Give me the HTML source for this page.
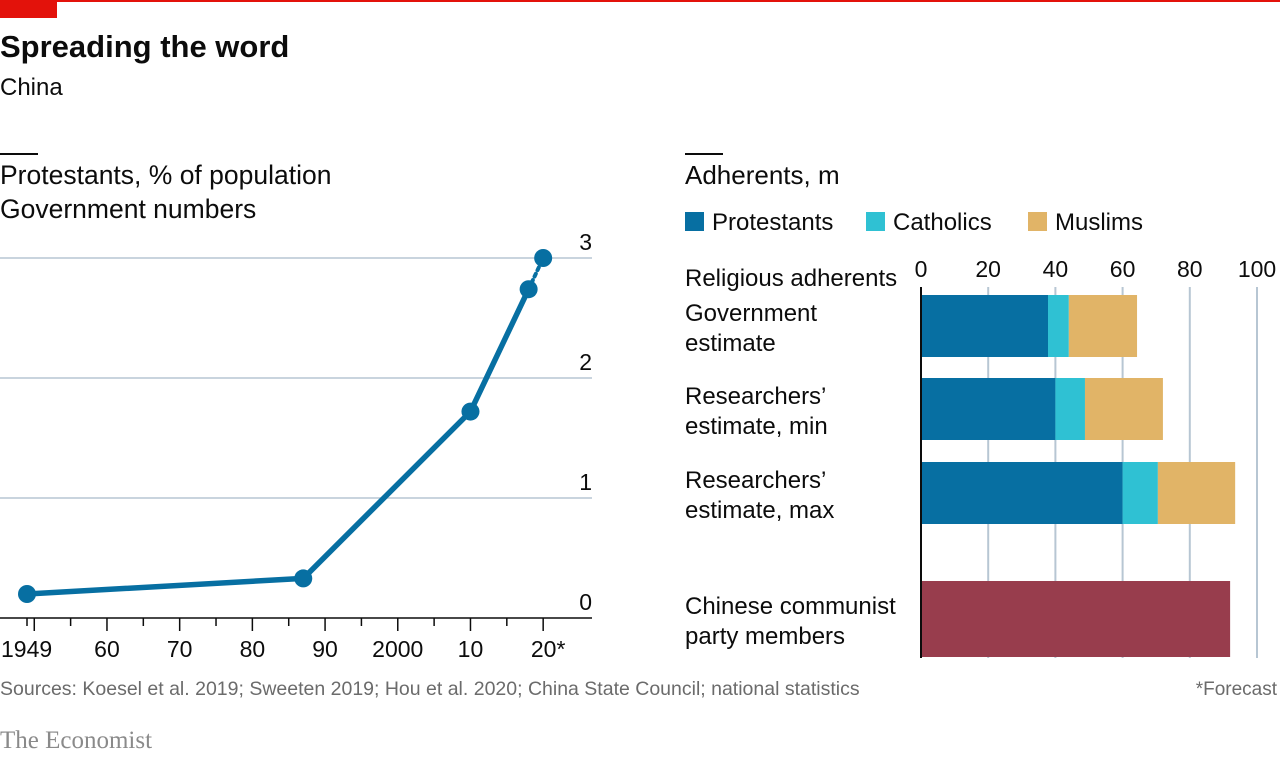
<!DOCTYPE html>
<html><head><meta charset="utf-8"><style>
body{margin:0;background:#fff;width:1280px;height:755px;overflow:hidden;font-family:"Liberation Sans",sans-serif;}
svg text{font-family:"Liberation Sans",sans-serif;}
</style></head><body>
<svg id="chart" width="1280" height="755" viewBox="0 0 1280 755">
<rect x="0" y="0" width="1280" height="2" fill="#e3120b"/>
<rect x="0" y="0" width="57" height="18" fill="#e3120b"/>
<text x="0" y="57" font-size="31" font-weight="bold" fill="#0c0c0c">Spreading the word</text>
<text x="0" y="95" font-size="24" fill="#0c0c0c">China</text>
<rect x="0" y="153" width="38" height="2" fill="#0c0c0c"/>
<text x="0" y="184" font-size="26.5" fill="#0c0c0c">Protestants, % of population</text>
<text x="0" y="218" font-size="26.5" fill="#0c0c0c">Government numbers</text>
<rect x="685" y="153" width="38" height="2" fill="#0c0c0c"/>
<text x="685" y="184" font-size="26" fill="#0c0c0c">Adherents, m</text>
<g id="left"></g>
<g id="right"></g>
<text x="0" y="695" font-size="19.5" fill="#6b6b6b">Sources: Koesel et al. 2019; Sweeten 2019; Hou et al. 2020; China State Council; national statistics</text>
<text x="1277" y="695" font-size="19" fill="#6b6b6b" text-anchor="end">*Forecast</text>
<text x="0" y="748" font-size="25" fill="#8a8a8a" style="font-family:'Liberation Serif',serif">The Economist</text>
</svg>
<script>
const lineYears=[1949,1987,2010,2018,2020];
const lineValues=[0.2,0.33,1.72,2.74,3.0];
const yTicks=[0,1,2,3];
const xTickLabels=["1949","60","70","80","90","2000","10","20*"];
const xLabelYears=[1949,1960,1970,1980,1990,2000,2010,2020];

const barCats=["Government estimate","Researchers’ estimate, min","Researchers’ estimate, max","Chinese communist party members"];
const protestants=[37.8,40,60,0];
const catholics=[6.2,8.8,10.5,0];
const muslims=[20.3,23.2,23,0];
const party=[0,0,0,92];
const barTicks=[0,20,40,60,80,100];

const NS="http://www.w3.org/2000/svg";
function mk(tag,attrs,parent,txt){const e=document.createElementNS(NS,tag);for(const k in attrs)e.setAttribute(k,attrs[k]);if(txt!==undefined)e.textContent=txt;parent.appendChild(e);return e;}
const L=document.getElementById('left');
const xs=y=>27+(y-1949)*7.27;
const ys=v=>618-v*120;
yTicks.forEach(t=>{
  if(t>0){const g=mk('line',{x1:0,x2:592,y1:ys(t),y2:ys(t),stroke:'#b7c6d3','stroke-width':1.5},L);
  
  }
  const tx=mk('text',{x:592,y:ys(t)-8,'font-size':23,'text-anchor':'end',fill:'#0c0c0c'},L,String(t));
  
  
});
const ax=mk('line',{x1:0,x2:592,y1:618,y2:618,stroke:'#0c0c0c','stroke-width':1.5},L);


for(let y=1950;y<=2020;y+=5){
  const major=y%10===0;
  const t=mk('line',{x1:xs(y),x2:xs(y),y1:618,y2:major?631:626,stroke:'#0c0c0c','stroke-width':1.5},L);
  
  
}
const t49=mk('line',{x1:xs(1949),x2:xs(1949),y1:618,y2:626,stroke:'#0c0c0c','stroke-width':1.5},L);


xTickLabels.forEach((lab,i)=>{
  let x=xs(xLabelYears[i]), anchor='middle';
  if(i===0){x=1;anchor='start';}
  if(lab==="20*")x+=5;
  const tx=mk('text',{x:x,y:657,'font-size':23,'text-anchor':anchor,fill:'#0c0c0c'},L,lab);
  
  
});
let d='';
for(let i=0;i<lineYears.length-1;i++)d+=(i?'L':'M')+xs(lineYears[i])+','+ys(lineValues[i]);
const ln=mk('path',{d:d,fill:'none',stroke:'#076fa2','stroke-width':5.5,'stroke-linejoin':'round'},L);


const n=lineYears.length;
const dl=mk('line',{x1:xs(lineYears[n-2]),y1:ys(lineValues[n-2]),x2:xs(lineYears[n-1]),y2:ys(lineValues[n-1]),stroke:'#076fa2','stroke-width':4,'stroke-dasharray':'3,4','stroke-linecap':'round'},L);


lineYears.forEach((yr,i)=>{
  const c=mk('circle',{cx:xs(yr),cy:ys(lineValues[i]),r:9,fill:'#076fa2'},L);
  
  
});

const R=document.getElementById('right');
const bx=v=>921+v*3.36;
const legend=[["Protestants","#076fa2",685],["Catholics","#2fc1d3",866],["Muslims","#e1b467",1028]];
legend.forEach(l=>{
  const r=mk('rect',{x:l[2],y:212,width:19,height:19,fill:l[1]},R);
  
  
  const t=mk('text',{x:l[2]+27,y:230,'font-size':24,fill:'#0c0c0c'},R,l[0]);
  
  
});
barTicks.forEach(t=>{
  if(t>0){const g=mk('line',{x1:bx(t),x2:bx(t),y1:287,y2:658,stroke:'#b7c6d3','stroke-width':2},R);
  
  }
  const tx=mk('text',{x:bx(t),y:277,'font-size':23,'text-anchor':'middle',fill:'#0c0c0c'},R,String(t));
  
  
});
const h=mk('text',{x:685,y:286,'font-size':24,fill:'#0c0c0c'},R,'Religious adherents');


const rowY=[295,378,462,581];
const rowH=[62,62,62,76];
const labLines=[["Government","estimate"],["Researchers’","estimate, min"],["Researchers’","estimate, max"],["Chinese communist","party members"]];
barCats.forEach((c,i)=>{
  let x0=0;
  [[protestants,'#076fa2'],[catholics,'#2fc1d3'],[muslims,'#e1b467'],[party,'#983d4d']].forEach(s=>{
    const v=s[0][i];if(v<=0)return;
    const r=mk('rect',{x:bx(x0),y:rowY[i],width:v*3.36,height:rowH[i],fill:s[1]},R);
    
    
    x0+=v;
  });
  const yb=i===3?614:rowY[i]+26;
  labLines[i].forEach((ln2,j)=>{
    const t=mk('text',{x:685,y:yb+j*30,'font-size':24,fill:'#0c0c0c'},R,ln2);
    
    
  });
});
const bax=mk('line',{x1:921,x2:921,y1:287,y2:658,stroke:'#0c0c0c','stroke-width':2},R);


</script>
</body></html>
